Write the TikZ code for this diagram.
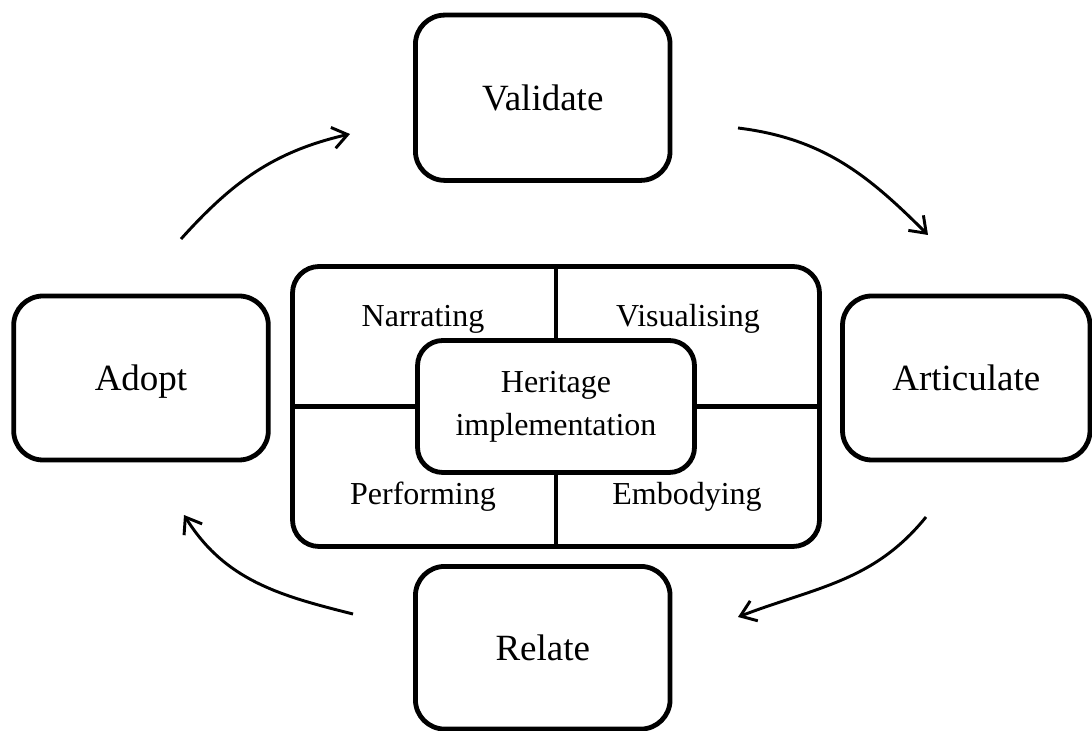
\documentclass[tikz,border=0pt]{standalone}
\usepackage{fontspec}
\setmainfont{Liberation Serif}
\usetikzlibrary{arrows.meta}

\begin{document}
\begin{tikzpicture}[x=0.75pt,y=0.75pt,
  stage/.style={draw, line width=3.6pt, rounded corners=22pt, inner sep=0pt,
    minimum width=191pt, minimum height=124pt,
    font=\fontsize{27.75}{33}\selectfont, text height=19pt, text depth=0pt},
  panel/.style={draw, line width=3.6pt, rounded corners=20pt, inner sep=0pt},
  divider/.style={line width=3.6pt},
  quadlabel/.style={anchor=base, inner sep=0pt, font=\fontsize{24}{24}\selectfont},
  cycle/.style={line width=2.2pt, -{Straight Barb[length=11pt, width=16pt, line width=2.2pt]}}]

\useasboundingbox (0,0) rectangle (1092,731);

% outer stages of the cycle
\node[stage] (validate)   at (542.75,633.25) {Validate};
\node[stage, minimum width=191pt, minimum height=123pt] (adopt) at (141,353) {Adopt};
\node[stage, minimum width=185.6pt, minimum height=123pt] (articulate) at (966.25,353) {Articulate};
\node[stage, minimum height=122pt] (relate) at (542.75,83.25) {Relate};

% central panel with four quadrants
\node[panel, minimum width=395.25pt, minimum height=210pt] (core) at (556,324.5) {};
\node[panel, rounded corners=19pt, fill=white, minimum width=207.75pt, minimum height=99pt,
      align=center, font=\fontsize{24}{32}\selectfont] (heritage) at (556,324.5)
      {Heritage\\implementation};

\draw[divider] (core.north) -- (heritage.north);
\draw[divider] (heritage.south) -- (core.south);
\draw[divider] (core.west) -- (heritage.west);
\draw[divider] (heritage.east) -- (core.east);

\node[quadlabel] (narrating)   at (423,404) {Narrating};
\node[quadlabel] (visualising) at (688,404) {Visualising};
\node[quadlabel] (performing)  at (423,226) {Performing};
\node[quadlabel] (embodying)   at (687,226) {Embodying};

% arrows running clockwise around the panel
\coordinate (a1s) at (181,492);
\coordinate (a1e) at (350,597);
\coordinate (a2s) at (738,603);
\coordinate (a2e) at (928,496);
\coordinate (a3s) at (926,214);
\coordinate (a3e) at (738,114);
\coordinate (a4s) at (353,117);
\coordinate (a4e) at (184,216);

\draw[cycle] (a1s) to[out=48, in=193] (a1e);
\draw[cycle] (a2s) to[out=-7, in=135] (a2e);
\draw[cycle] (a3s) to[out=231, in=21] (a3e);
\draw[cycle] (a4s) to[out=166, in=302] (a4e);

\end{tikzpicture}
\end{document}
